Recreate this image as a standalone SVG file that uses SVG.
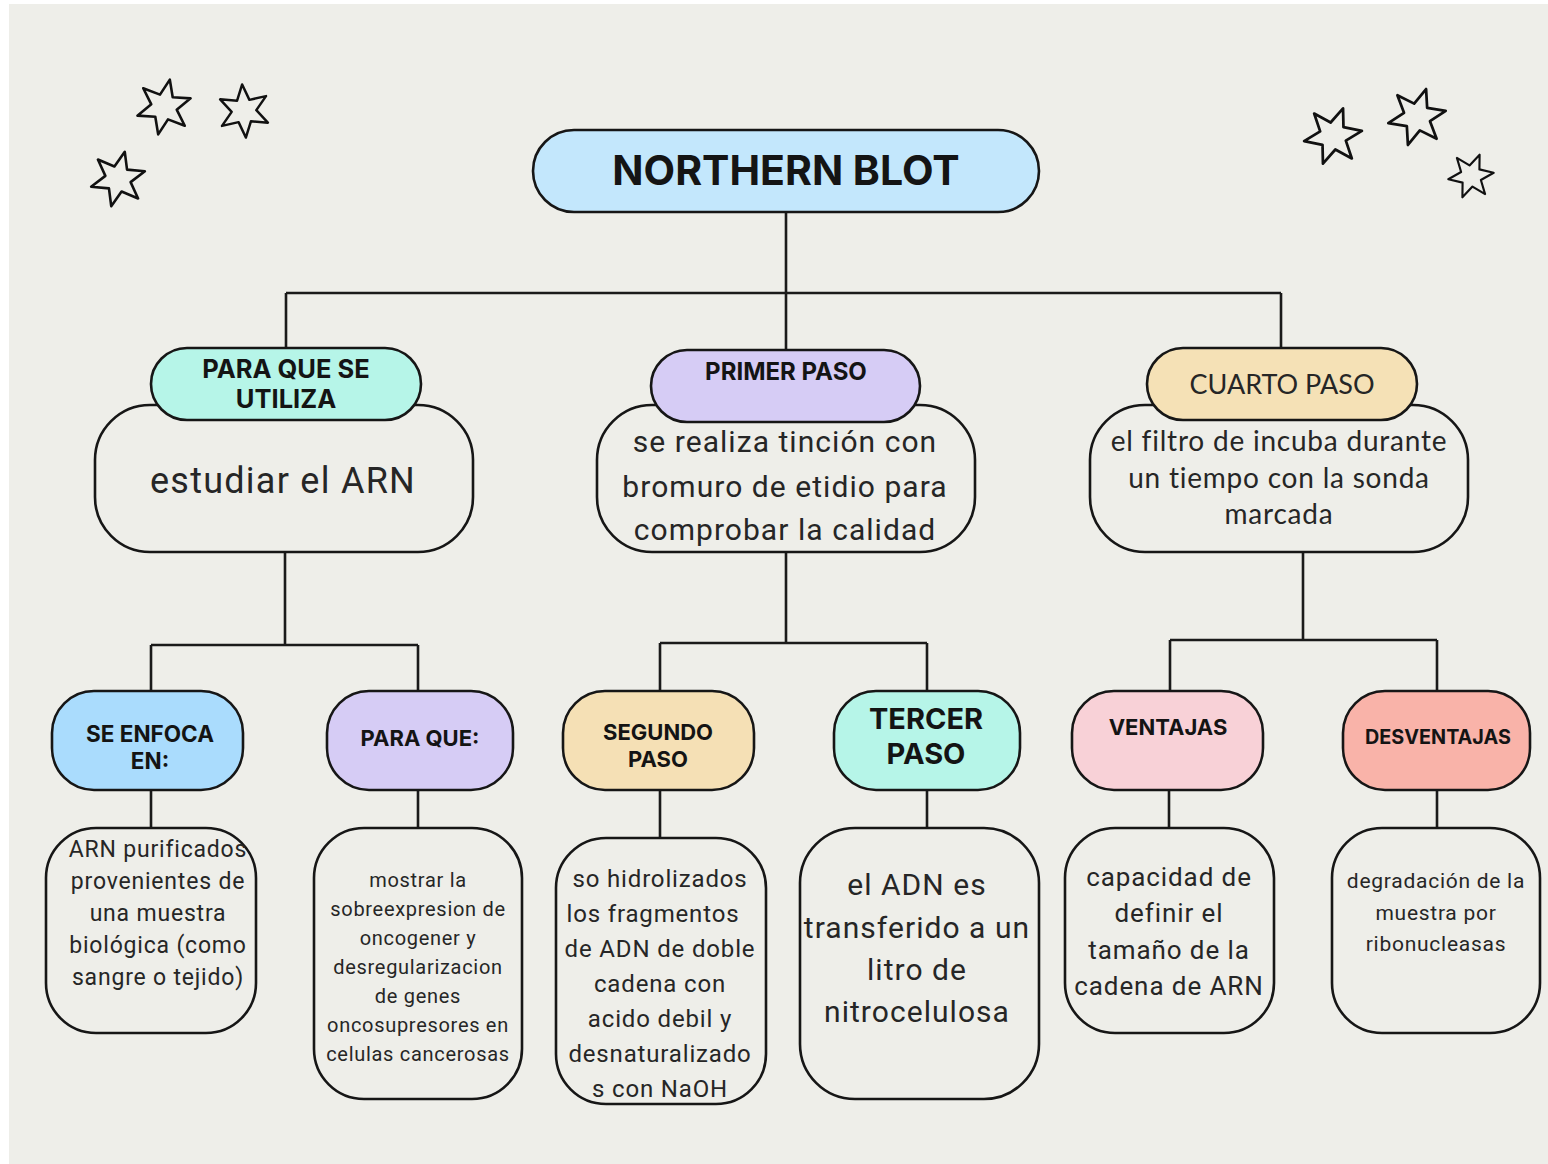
<svg xmlns="http://www.w3.org/2000/svg" xmlns:xlink="http://www.w3.org/1999/xlink" width="1548" height="1164" viewBox="0 0 1548 1164">
<style>
.box{fill:none;stroke:#161616;stroke-width:2.6}
.tag{stroke:#161616;stroke-width:2.6}
.con{fill:none;stroke:#1a1a1a;stroke-width:2.6}
.star{fill:none;stroke:#111;stroke-width:2.6;stroke-linejoin:round}
.h{font-family:Inter,"Liberation Sans",sans-serif;font-weight:700;fill:#141414;text-anchor:middle}
.b{font-family:Roboto,"Liberation Sans",sans-serif;fill:#262626;text-anchor:middle;letter-spacing:0.035em}
.l{font-family:Lato,"Liberation Sans",sans-serif;fill:#262626;text-anchor:middle;letter-spacing:0.028em}
</style>
<defs>
<path id="st" d="M0,-28 L6.5,-11.3 L24.2,-14 L13,0 L24.2,14 L6.5,11.3 L0,28 L-6.5,11.3 L-24.2,14 L-13,0 L-24.2,-14 L-6.5,-11.3 Z"/>
</defs>
<rect x="0" y="0" width="1548" height="1164" fill="#ffffff"/>
<rect x="9" y="4" width="1539" height="1160" fill="#eeeee9"/>
<g id="stars">
<use xlink:href="#st" class="star" transform="translate(164,107) rotate(12) scale(1.0)"/>
<use xlink:href="#st" class="star" transform="translate(244,111) rotate(-4) scale(0.95)"/>
<use xlink:href="#st" class="star" transform="translate(118,179) rotate(14) scale(1.0)"/>
<use xlink:href="#st" class="star" transform="translate(1333,136) rotate(20) scale(1.05)"/>
<use xlink:href="#st" class="star" transform="translate(1417,117) rotate(18) scale(1.05)"/>
<use xlink:href="#st" class="star" transform="translate(1471,176) rotate(22) scale(0.82)"/>
</g>
<g id="connectors">
<path class="con" d="M786,212 V293 M286,293 H1281 M286,293 V348 M786,293 V350 M1281,293 V348"/>
<path class="con" d="M285,552 V645 M151,645 H418 M151,645 V692 M418,645 V692"/>
<path class="con" d="M786,552 V643 M660,643 H927 M660,643 V692 M927,643 V692"/>
<path class="con" d="M1303,552 V640 M1170,640 H1437 M1170,640 V692 M1437,640 V692"/>
<path class="con" d="M151,790 V828 M418,790 V828 M660,790 V838 M927,790 V828 M1169,790 V828 M1437,790 V828"/>
</g>
<g id="root">
<rect class="tag" x="533" y="130" width="506" height="82" rx="41" fill="#c3e7fc"/>
<text class="h" x="786" y="185" font-size="41">NORTHERN BLOT</text>
</g>
<g id="n-utiliza">
<rect class="box" x="95" y="405" width="378" height="147" rx="55"/>
<rect class="tag" x="151" y="348" width="270" height="72" rx="36" fill="#b6f5e8"/>
<text class="h" x="286" y="378" font-size="25.5">PARA QUE SE</text>
<text class="h" x="286" y="408" font-size="25.5">UTILIZA</text>
<text class="b" x="283" y="493" font-size="36">estudiar el ARN</text>
</g>
<g id="n-primer">
<rect class="box" x="597" y="405" width="378" height="147" rx="55"/>
<rect class="tag" x="651" y="350" width="269" height="72" rx="36" fill="#d6ccf5"/>
<text class="h" x="786" y="380" font-size="24">PRIMER PASO</text>
<text class="b" x="785" y="452" font-size="30">se realiza tinción con</text>
<text class="b" x="785" y="497" font-size="30">bromuro de etidio para</text>
<text class="b" x="785" y="540" font-size="30">comprobar la calidad</text>
</g>
<g id="n-cuarto">
<rect class="box" x="1090" y="405" width="378" height="147" rx="55"/>
<rect class="tag" x="1147" y="348" width="270" height="72" rx="36" fill="#f5e1b6"/>
<text class="l" x="1282" y="394" font-size="27" style="letter-spacing:0">CUARTO PASO</text>
<text class="l" x="1279" y="451" font-size="28">el filtro de incuba durante</text>
<text class="l" x="1279" y="488" font-size="28">un tiempo con la sonda</text>
<text class="l" x="1279" y="524" font-size="28">marcada</text>
</g>
<g id="n-enfoca">
<rect class="tag" x="52" y="691" width="191" height="99" rx="42" fill="#aadcfd"/>
<text class="h" x="150" y="742" font-size="22.5">SE ENFOCA</text>
<text class="h" x="150" y="769" font-size="22.5">EN:</text>
</g>
<g id="n-paraque">
<rect class="tag" x="327" y="691" width="186" height="99" rx="42" fill="#d6ccf5"/>
<text class="h" x="420" y="746" font-size="22">PARA QUE:</text>
</g>
<g id="n-segundo">
<rect class="tag" x="563" y="691" width="191" height="99" rx="42" fill="#f5e0b5"/>
<text class="h" x="658" y="740" font-size="22">SEGUNDO</text>
<text class="h" x="658" y="767" font-size="22">PASO</text>
</g>
<g id="n-tercer">
<rect class="tag" x="834" y="691" width="186" height="99" rx="42" fill="#b6f5e8"/>
<text class="h" x="926" y="729" font-size="29">TERCER</text>
<text class="h" x="926" y="764" font-size="29">PASO</text>
</g>
<g id="n-ventajas">
<rect class="tag" x="1072" y="691" width="191" height="99" rx="42" fill="#f8d1d7"/>
<text class="h" x="1168" y="735" font-size="22">VENTAJAS</text>
</g>
<g id="n-desventajas">
<rect class="tag" x="1343" y="691" width="187" height="99" rx="42" fill="#f9b3a9"/>
<text class="h" x="1438" y="744" font-size="19.8">DESVENTAJAS</text>
</g>
<g id="n-arn">
<rect class="box" x="46" y="828" width="210" height="205" rx="50"/>
<text class="b" x="158" y="857" font-size="23">ARN purificados</text>
<text class="b" x="158" y="889" font-size="23">provenientes de</text>
<text class="b" x="158" y="921" font-size="23">una muestra</text>
<text class="b" x="158" y="953" font-size="23">biológica (como</text>
<text class="b" x="158" y="985" font-size="23">sangre o tejido)</text>
</g>
<g id="n-mostrar">
<rect class="box" x="314" y="828" width="208" height="271" rx="50"/>
<text class="b" x="418" y="887" font-size="20">mostrar la</text>
<text class="b" x="418" y="916" font-size="20">sobreexpresion de</text>
<text class="b" x="418" y="945" font-size="20">oncogener y</text>
<text class="b" x="418" y="974" font-size="20">desregularizacion</text>
<text class="b" x="418" y="1003" font-size="20">de genes</text>
<text class="b" x="418" y="1032" font-size="20">oncosupresores en</text>
<text class="b" x="418" y="1061" font-size="20">celulas cancerosas</text>
</g>
<g id="n-hidrolizados">
<rect class="box" x="556" y="838" width="210" height="266" rx="50"/>
<text class="b" x="660" y="887" font-size="24">so hidrolizados</text>
<text class="b" x="653" y="922" font-size="24">los fragmentos</text>
<text class="b" x="660" y="957" font-size="24">de ADN de doble</text>
<text class="b" x="660" y="992" font-size="24">cadena con</text>
<text class="b" x="660" y="1027" font-size="24">acido debil y</text>
<text class="b" x="660" y="1062" font-size="24">desnaturalizado</text>
<text class="b" x="660" y="1097" font-size="24">s con NaOH</text>
</g>
<g id="n-adn">
<rect class="box" x="800" y="828" width="239" height="271" rx="55"/>
<text class="b" x="917" y="895" font-size="30">el ADN es</text>
<text class="b" x="917" y="938" font-size="30">transferido a un</text>
<text class="b" x="917" y="980" font-size="30">litro de</text>
<text class="b" x="917" y="1022" font-size="30">nitrocelulosa</text>
</g>
<g id="n-capacidad">
<rect class="box" x="1065" y="828" width="209" height="205" rx="50"/>
<text class="b" x="1169" y="886" font-size="26">capacidad de</text>
<text class="b" x="1169" y="922" font-size="26">definir el</text>
<text class="b" x="1169" y="959" font-size="26">tamaño de la</text>
<text class="b" x="1169" y="995" font-size="26">cadena de ARN</text>
</g>
<g id="n-degradacion">
<rect class="box" x="1332" y="828" width="208" height="205" rx="50"/>
<text class="b" x="1436" y="888" font-size="21">degradación de la</text>
<text class="b" x="1436" y="920" font-size="21">muestra por</text>
<text class="b" x="1436" y="951" font-size="21">ribonucleasas</text>
</g>
</svg>
